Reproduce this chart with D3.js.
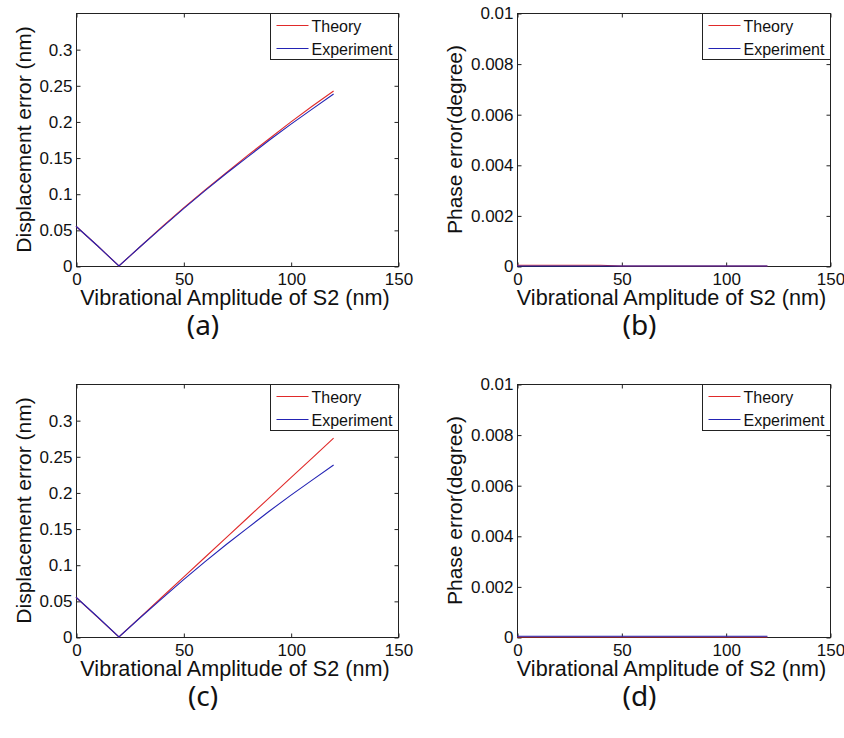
<!DOCTYPE html>
<html>
<head>
<meta charset="utf-8">
<script src="https://cdn.jsdelivr.net/npm/d3@7"></script>
<style>
  body { margin: 0; background: #fff; }
  svg { display: block; font-family: "Liberation Sans", Arial, sans-serif; }
</style>
</head>
<body>
<svg id="chart" width="844" height="738"></svg>
<script>
// amplitude of S2 (nm)
const amplitude = [0, 10, 20, 30, 40, 50, 60, 70, 80, 90, 100, 110, 120];

// displacement error (nm)
const dispTheoryA = [0.055, 0.028, 0, 0.027, 0.054, 0.080, 0.105, 0.129, 0.153, 0.176, 0.199, 0.221, 0.242];
const dispExpA    = [0.055, 0.028, 0, 0.027, 0.053, 0.079, 0.104, 0.128, 0.151, 0.174, 0.196, 0.217, 0.238];
const dispTheoryC = [0.055, 0.0275, 0, 0.0275, 0.055, 0.0825, 0.110, 0.1375, 0.165, 0.1925, 0.220, 0.2475, 0.275];
const dispExpC    = [0.055, 0.028, 0, 0.027, 0.053, 0.079, 0.104, 0.128, 0.151, 0.174, 0.196, 0.217, 0.238];

// phase error (degree)
const phaseTheoryB = [0.00003, 0.00003, 0.00003, 0.00003, 0.00003, 0, 0, 0, 0, 0, 0, 0, 0];
const phaseExpB    = [0, 0, 0, 0, 0, 0, 0, 0, 0, 0, 0, 0, 0];
const phaseTheoryD = [0, 0, 0, 0, 0, 0, 0, 0, 0, 0, 0, 0, 0];
const phaseExpD    = [0.00003, 0.00003, 0.00003, 0.00003, 0.00003, 0.00003, 0.00003, 0.00003, 0.00003, 0.00003, 0.00003, 0.00003, 0.00003];

const ampTicks = [0, 50, 100, 150];
const dispTicks = [0, 0.05, 0.1, 0.15, 0.2, 0.25, 0.3];
const phaseTicks = [0, 0.002, 0.004, 0.006, 0.008, 0.01];

const seriesNames = ['Theory', 'Experiment'];
const seriesColors = ['#e02a2a', '#2323b4'];

const svg = d3.select('#chart');

const panels = [
  { tag: '(a)', left: 76, top: 13, width: 322, height: 253, ymax: 0.35, yTicks: dispTicks,
    yLabel: 'Displacement error (nm)', series: [dispTheoryA, dispExpA] },
  { tag: '(b)', left: 517, top: 13, width: 313, height: 253, ymax: 0.01, yTicks: phaseTicks,
    yLabel: 'Phase error(degree)', series: [phaseTheoryB, phaseExpB] },
  { tag: '(c)', left: 76, top: 384, width: 322, height: 253, ymax: 0.35, yTicks: dispTicks,
    yLabel: 'Displacement error (nm)', series: [dispTheoryC, dispExpC] },
  { tag: '(d)', left: 517, top: 384, width: 313, height: 253, ymax: 0.01, yTicks: phaseTicks,
    yLabel: 'Phase error(degree)', series: [phaseTheoryD, phaseExpD] },
];

const fmt = d => String(+d.toFixed(4));

panels.forEach(p => {
  const g = svg.append('g').attr('transform', `translate(${p.left},${p.top})`);

  const x = d3.scaleLinear().domain([0, 150]).range([0, p.width]);
  const y = d3.scaleLinear().domain([0, p.ymax]).range([p.height, 0]);

  // box
  g.append('rect')
    .attr('x', 0.5).attr('y', 0.5)
    .attr('width', p.width).attr('height', p.height)
    .attr('fill', 'none').attr('stroke', '#222').attr('stroke-width', 1);

  const styleAxis = sel => {
    sel.select('.domain').remove();
    sel.selectAll('line').attr('stroke', '#222');
    sel.selectAll('text').attr('fill', '#111').attr('font-size', 17).attr('font-family', null);
  };

  g.append('g').attr('transform', `translate(0.5,${p.height + 0.5})`)
    .call(d3.axisBottom(x).tickValues(ampTicks).tickFormat(fmt).tickSizeInner(-4).tickSizeOuter(0).tickPadding(6))
    .call(styleAxis);
  g.append('g').attr('transform', 'translate(0.5,0.5)')
    .call(d3.axisTop(x).tickValues(ampTicks).tickFormat('').tickSizeInner(-4).tickSizeOuter(0))
    .call(styleAxis);
  g.append('g').attr('transform', 'translate(0.5,0.5)')
    .call(d3.axisLeft(y).tickValues(p.yTicks).tickFormat(fmt).tickSizeInner(-4).tickSizeOuter(0).tickPadding(4))
    .call(styleAxis);
  g.append('g').attr('transform', `translate(${p.width + 0.5},0.5)`)
    .call(d3.axisRight(y).tickValues(p.yTicks).tickFormat('').tickSizeInner(-4).tickSizeOuter(0))
    .call(styleAxis);

  // series
  const line = d3.line().x((d, i) => x(amplitude[i])).y(d => y(d));
  p.series.forEach((vals, k) => {
    g.append('path')
      .datum(vals)
      .attr('d', line)
      .attr('fill', 'none')
      .attr('stroke', seriesColors[k])
      .attr('stroke-width', 1.1);
  });

  // axis labels
  g.append('text')
    .attr('x', p.width / 2 - 2).attr('y', p.height + 39)
    .attr('text-anchor', 'middle')
    .attr('font-size', 21.6).attr('fill', '#111')
    .text('Vibrational Amplitude of S2 (nm)');

  const ylx = p.tag === '(a)' || p.tag === '(c)' ? -45 : -55;
  g.append('text')
    .attr('transform', `translate(${ylx},${p.height / 2}) rotate(-90)`)
    .attr('text-anchor', 'middle')
    .attr('font-size', 21).attr('fill', '#111')
    .text(p.yLabel);

  // legend
  const lw = 128, lh = 46;
  const lg = g.append('g').attr('transform', `translate(${p.width - lw + 0.5},0.5)`);
  lg.append('rect')
    .attr('width', lw).attr('height', lh)
    .attr('fill', '#fff').attr('stroke', '#222');
  seriesNames.forEach((name, k) => {
    const ly = 12 + k * 23;
    lg.append('line')
      .attr('x1', 6).attr('x2', 38).attr('y1', ly).attr('y2', ly)
      .attr('stroke', seriesColors[k]).attr('stroke-width', 1.2);
    lg.append('text')
      .attr('x', 41).attr('y', ly + 6)
      .attr('font-size', 16).attr('fill', '#111')
      .text(name);
  });

  // panel tag
  g.append('text')
    .attr('x', p.width / 2 - 34).attr('y', p.height + 69)
    .attr('text-anchor', 'middle')
    .attr('font-family', '"Noto Sans", "Open Sans", sans-serif')
    .attr('font-size', 28).attr('fill', '#111')
    .text(p.tag);
});
</script>
</body>
</html>
